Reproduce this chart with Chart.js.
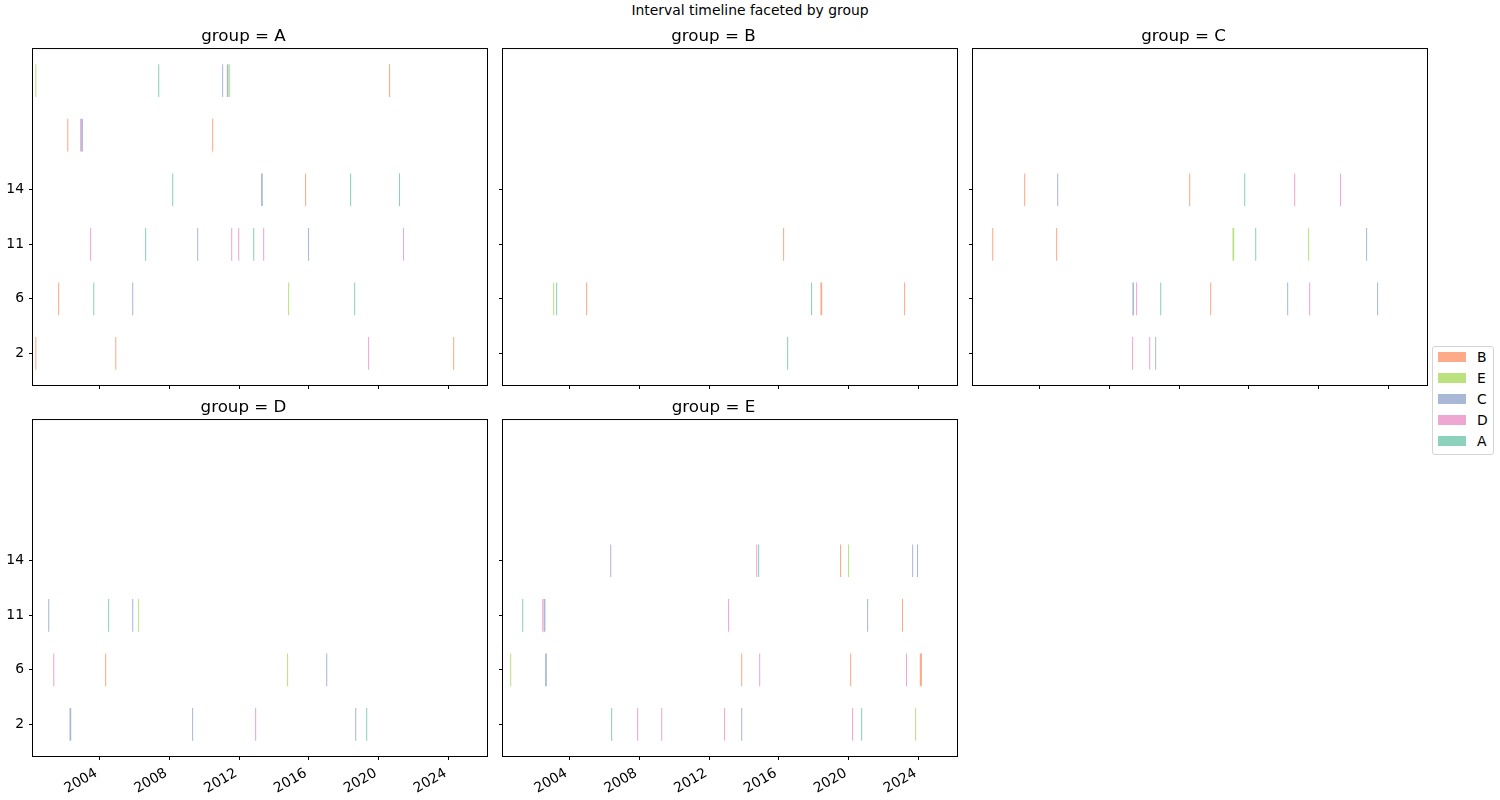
<!DOCTYPE html>
<html>
<head>
<meta charset="utf-8">
<script src="https://cdn.jsdelivr.net/npm/chart.js@4.4.0/dist/chart.umd.min.js"></script>
<style>
  body { margin:0; background:#fff; width:1500px; height:800px; position:relative; overflow:hidden; font-family:"DejaVu Sans", sans-serif; }
  canvas { position:absolute; }
  #suptitle { position:absolute; top:2px; left:0; width:1500px; text-align:center; font-size:13.9px; line-height:16px; color:#000; }
  #legend { position:absolute; left:1432px; top:346px; width:62px; height:109px; box-sizing:border-box; border:1px solid #d4d4d4; border-radius:3px; background:rgba(255,255,255,0.8); }
  .lg-patch { position:absolute; left:5px; width:28px; height:10px; }
  .lg-text { position:absolute; left:44px; font-size:13.9px; line-height:16px; color:#000; }
</style>
</head>
<body>
<div id="suptitle">Interval timeline faceted by group</div>
<canvas id="cA" width="492" height="371" style="left:0px;top:19px"></canvas>
<canvas id="cB" width="492" height="371" style="left:470px;top:19px"></canvas>
<canvas id="cC" width="492" height="371" style="left:940px;top:19px"></canvas>
<canvas id="cD" width="492" height="410" style="left:0px;top:390px"></canvas>
<canvas id="cE" width="492" height="410" style="left:470px;top:390px"></canvas>
<div id="legend"></div>
<script>
// ---------------- data ----------------
const SERIES = ['B', 'E', 'C', 'D', 'A'];
const GROUPS = ['A', 'B', 'C', 'D', 'E'];
const ROW_TICKS = [0, 1, 2, 3];
const ROW_TICK_LABELS = ['2', '6', '11', '14'];
const YEAR_TICKS = [2004, 2008, 2012, 2016, 2020, 2024];

// [row, start year, end year, series]
const intervalsA = [
  [5, 2000.33, 2000.39, 'E'], [5, 2007.37, 2007.43, 'A'], [5, 2011.03, 2011.09, 'C'],
  [5, 2011.30, 2011.40, 'C'], [5, 2011.43, 2011.49, 'E'], [5, 2020.59, 2020.65, 'B'],
  [4, 2002.16, 2002.22, 'B'], [4, 2002.90, 2002.96, 'D'], [4, 2002.96, 2003.06, 'C'],
  [4, 2010.46, 2010.52, 'B'],
  [3, 2008.17, 2008.23, 'A'], [3, 2013.26, 2013.36, 'C'], [3, 2015.78, 2015.84, 'B'],
  [3, 2018.36, 2018.42, 'A'], [3, 2021.16, 2021.22, 'A'],
  [2, 2003.47, 2003.53, 'D'], [2, 2006.62, 2006.68, 'A'], [2, 2009.60, 2009.66, 'C'],
  [2, 2011.55, 2011.61, 'D'], [2, 2011.95, 2012.01, 'D'], [2, 2012.81, 2012.87, 'A'],
  [2, 2013.38, 2013.44, 'D'], [2, 2015.95, 2016.01, 'C'], [2, 2021.39, 2021.45, 'D'],
  [1, 2001.64, 2001.70, 'B'], [1, 2003.65, 2003.71, 'A'], [1, 2005.88, 2005.94, 'C'],
  [1, 2014.81, 2014.87, 'E'], [1, 2018.59, 2018.65, 'A'],
  [0, 2000.33, 2000.39, 'B'], [0, 2004.91, 2004.97, 'B'], [0, 2019.39, 2019.45, 'D'],
  [0, 2024.26, 2024.32, 'B']
];
const intervalsB = [
  [2, 2016.24, 2016.30, 'B'],
  [1, 2003.07, 2003.13, 'E'], [1, 2003.24, 2003.30, 'A'], [1, 2004.96, 2005.02, 'B'],
  [1, 2017.84, 2017.90, 'A'], [1, 2018.38, 2018.48, 'B'], [1, 2023.17, 2023.23, 'B'],
  [0, 2016.47, 2016.53, 'A']
];
const intervalsC = [
  [3, 2003.13, 2003.19, 'B'], [3, 2005.02, 2005.08, 'C'], [3, 2012.58, 2012.64, 'B'],
  [3, 2015.73, 2015.79, 'A'], [3, 2018.59, 2018.65, 'D'], [3, 2021.22, 2021.28, 'D'],
  [2, 2001.30, 2001.36, 'B'], [2, 2004.96, 2005.02, 'B'], [2, 2015.06, 2015.16, 'E'],
  [2, 2016.36, 2016.42, 'A'], [2, 2019.39, 2019.45, 'E'], [2, 2022.71, 2022.77, 'C'],
  [1, 2009.33, 2009.42, 'C'], [1, 2009.54, 2009.60, 'D'], [1, 2010.92, 2010.98, 'A'],
  [1, 2013.78, 2013.84, 'B'], [1, 2018.19, 2018.25, 'C'], [1, 2019.45, 2019.51, 'D'],
  [1, 2023.34, 2023.40, 'C'],
  [0, 2009.31, 2009.37, 'D'], [0, 2010.29, 2010.35, 'D'], [0, 2010.63, 2010.69, 'C']
];
const intervalsD = [
  [2, 2001.07, 2001.13, 'C'], [2, 2004.50, 2004.56, 'A'], [2, 2005.88, 2005.94, 'C'],
  [2, 2006.22, 2006.28, 'E'],
  [1, 2001.36, 2001.42, 'D'], [1, 2004.33, 2004.39, 'B'], [1, 2014.75, 2014.81, 'E'],
  [1, 2016.99, 2017.05, 'C'],
  [0, 2002.29, 2002.39, 'C'], [0, 2009.31, 2009.37, 'C'], [0, 2012.92, 2012.98, 'D'],
  [0, 2018.65, 2018.71, 'C'], [0, 2019.28, 2019.34, 'A']
];
const intervalsE = [
  [3, 2006.34, 2006.40, 'C'], [3, 2014.70, 2014.76, 'D'], [3, 2014.81, 2014.87, 'A'],
  [3, 2019.50, 2019.56, 'B'], [3, 2019.96, 2020.02, 'E'], [3, 2023.63, 2023.69, 'C'],
  [3, 2023.91, 2023.97, 'C'],
  [2, 2001.30, 2001.36, 'A'], [2, 2002.45, 2002.53, 'D'], [2, 2002.55, 2002.63, 'C'],
  [2, 2013.09, 2013.15, 'D'], [2, 2021.05, 2021.11, 'C'], [2, 2023.05, 2023.11, 'B'],
  [1, 2000.61, 2000.67, 'E'], [1, 2002.61, 2002.71, 'C'], [1, 2013.84, 2013.90, 'B'],
  [1, 2014.87, 2014.93, 'D'], [1, 2020.08, 2020.14, 'B'], [1, 2023.28, 2023.34, 'D'],
  [1, 2024.07, 2024.19, 'B'],
  [0, 2006.39, 2006.45, 'A'], [0, 2007.88, 2007.94, 'D'], [0, 2009.26, 2009.32, 'D'],
  [0, 2012.86, 2012.92, 'D'], [0, 2013.84, 2013.90, 'C'], [0, 2020.19, 2020.25, 'D'],
  [0, 2020.71, 2020.77, 'A'], [0, 2023.80, 2023.86, 'E']
];
const INTERVALS = { A: intervalsA, B: intervalsB, C: intervalsC, D: intervalsD, E: intervalsE };

// ---------------- style / layout ----------------
const COLORS = {
  A: 'rgba(102,194,165,0.75)',
  B: 'rgba(252,141,98,0.75)',
  C: 'rgba(141,160,203,0.75)',
  D: 'rgba(231,138,195,0.75)',
  E: 'rgba(166,216,84,0.75)'
};
const X_MIN = 2000.2, X_MAX = 2026.2;
const Y_MIN = -0.58, Y_MAX = 5.58;
const FONT = 'DejaVu Sans';
const PANELS = {
  A: { canvas: 'cA', xLabels: false, yLabels: true,  bottom: 5 },
  B: { canvas: 'cB', xLabels: false, yLabels: false, bottom: 5 },
  C: { canvas: 'cC', xLabels: false, yLabels: false, bottom: 5 },
  D: { canvas: 'cD', xLabels: true,  yLabels: true,  bottom: 44 },
  E: { canvas: 'cE', xLabels: true,  yLabels: false, bottom: 44 }
};

const framePlugin = {
  id: 'frame',
  afterDatasetsDraw(chart) {
    const a = chart.chartArea, ctx = chart.ctx;
    ctx.save();
    ctx.strokeStyle = '#000';
    ctx.lineWidth = 1;
    ctx.strokeRect(a.left - 0.5, a.top - 0.5, a.right - a.left + 1, a.bottom - a.top + 1);
    ctx.restore();
  }
};

function makePanel(group) {
  const p = PANELS[group];
  const rows = INTERVALS[group];
  const datasets = SERIES.map(s => ({
    label: s,
    data: rows.filter(r => r[3] === s).map(r => ({ x: [r[1], r[2]], y: r[0] })),
    backgroundColor: COLORS[s],
    borderWidth: 0,
    grouped: false,
    barPercentage: 0.6,
    categoryPercentage: 1.0
  }));
  new Chart(document.getElementById(p.canvas), {
    type: 'bar',
    data: { datasets },
    plugins: [framePlugin],
    options: {
      responsive: false,
      animation: false,
      indexAxis: 'y',
      layout: { padding: { left: 0, right: 5, top: 0, bottom: 0 } },
      plugins: {
        legend: { display: false },
        tooltip: { enabled: false },
        title: {
          display: true,
          text: 'group = ' + group,
          color: '#000',
          font: { family: FONT, size: 16.7, weight: 'normal', lineHeight: 1.2 },
          padding: { top: 8, bottom: 2 }
        }
      },
      scales: {
        x: {
          type: 'linear',
          position: 'bottom',
          min: X_MIN, max: X_MAX,
          offset: false,
          bounds: 'data',
          afterBuildTicks(scale) { scale.ticks = YEAR_TICKS.map(v => ({ value: v })); },
          afterFit(scale) { scale.height = p.bottom; scale.paddingLeft = 0; scale.paddingRight = 0; },
          border: { display: false },
          grid: { display: true, offset: false, drawOnChartArea: false, drawTicks: true, tickLength: 4, color: '#000', lineWidth: 1 },
          ticks: {
            display: p.xLabels,
            autoSkip: false,
            minRotation: 30, maxRotation: 30,
            padding: 5,
            labelOffset: -3,
            color: '#000',
            font: { family: FONT, size: 13.9 },
            callback: (v) => String(v)
          }
        },
        y: {
          type: 'linear',
          position: 'left',
          min: Y_MIN, max: Y_MAX,
          offset: false,
          bounds: 'data',
          afterBuildTicks(scale) { scale.ticks = ROW_TICKS.map(v => ({ value: v })); },
          afterFit(scale) { scale.width = 33; scale.paddingTop = 0; scale.paddingBottom = 0; },
          border: { display: false },
          grid: { display: true, offset: false, drawOnChartArea: false, drawTicks: true, tickLength: 4, color: '#000', lineWidth: 1 },
          ticks: {
            display: p.yLabels,
            padding: 5,
            color: '#000',
            font: { family: FONT, size: 13.9 },
            callback: (v) => ROW_TICK_LABELS[ROW_TICKS.indexOf(v)]
          }
        }
      }
    }
  });
}

GROUPS.forEach(makePanel);

// legend
const lg = document.getElementById('legend');
SERIES.forEach((s, i) => {
  const patch = document.createElement('div');
  patch.className = 'lg-patch';
  patch.style.top = (5 + i * 21) + 'px';
  patch.style.background = COLORS[s];
  lg.appendChild(patch);
  const t = document.createElement('div');
  t.className = 'lg-text';
  t.style.top = (2 + i * 21) + 'px';
  t.textContent = s;
  lg.appendChild(t);
});
</script>
</body>
</html>
